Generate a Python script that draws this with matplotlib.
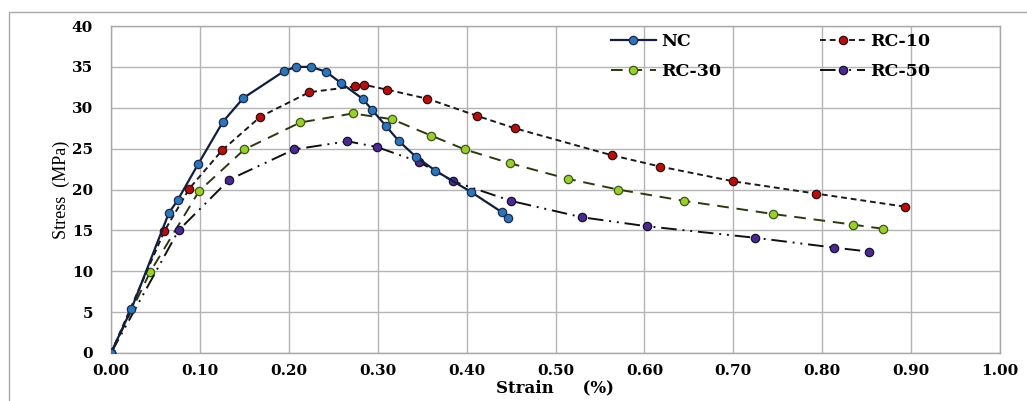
import matplotlib
matplotlib.use("Agg")
import matplotlib.pyplot as plt
from matplotlib.patches import Rectangle

nc_strain = [0.0, 0.023, 0.065, 0.075, 0.098, 0.126, 0.149, 0.195, 0.208, 0.225, 0.242, 0.259,
             0.283, 0.294, 0.309, 0.324, 0.343, 0.365, 0.405, 0.440, 0.447]
nc_stress = [0.0, 5.4, 17.1, 18.7, 23.1, 28.3, 31.2, 34.5, 35.0, 35.0, 34.4, 33.0,
             31.1, 29.7, 27.8, 25.9, 24.0, 22.3, 19.7, 17.2, 16.5]

rc10_strain = [0.0, 0.060, 0.088, 0.125, 0.168, 0.223, 0.274, 0.285, 0.311, 0.356, 0.412,
               0.454, 0.563, 0.618, 0.700, 0.793, 0.893]
rc10_stress = [0.0, 14.9, 20.1, 24.8, 28.9, 31.9, 32.6, 32.8, 32.2, 31.1, 29.0,
               27.5, 24.2, 22.8, 21.0, 19.5, 17.9]

rc30_strain = [0.0, 0.044, 0.099, 0.150, 0.213, 0.272, 0.316, 0.360, 0.398, 0.449, 0.514,
               0.570, 0.645, 0.745, 0.835, 0.868]
rc30_stress = [0.0, 9.9, 19.8, 24.9, 28.2, 29.3, 28.6, 26.6, 24.9, 23.2, 21.3,
               20.0, 18.6, 17.0, 15.7, 15.2]

rc50_strain = [0.0, 0.076, 0.133, 0.206, 0.266, 0.299, 0.346, 0.385, 0.450, 0.530,
               0.603, 0.724, 0.813, 0.853]
rc50_stress = [0.0, 15.0, 21.2, 24.9, 25.9, 25.2, 23.4, 21.0, 18.6, 16.6,
               15.5, 14.1, 12.9, 12.4]

labels = ["NC", "RC-10", "RC-30", "RC-50"]
x_ticks = [0.0, 0.1, 0.2, 0.3, 0.4, 0.5, 0.6, 0.7, 0.8, 0.9, 1.0]
y_ticks = [0, 5, 10, 15, 20, 25, 30, 35, 40]

serif = ["DejaVu Serif"]
lserif = ["Liberation Serif", "DejaVu Serif"]

fig = plt.figure(figsize=(10.27, 4.01), dpi=100)
ax = fig.add_axes([111/1027, 1-353/401, (1000-111)/1027, (353-26)/401])

# outer frame
fig.patches.append(Rectangle((9/1027, -0.05), 1.2, 1-12/401+0.05, transform=fig.transFigure,
                             fill=False, edgecolor="#A8A8A8", linewidth=1.0))

ms = 6
h_nc, = ax.plot(nc_strain, nc_stress, '-', color="#0F1F3D", lw=1.6, marker='o', ms=ms,
                mfc="#2E75B6", mec="#1A2A50", mew=0.9, label=labels[0], zorder=5)
h_10, = ax.plot(rc10_strain, rc10_stress, color="#1A1A1A", lw=1.4, ls=(0, (3, 2)), marker='o', ms=ms,
                mfc="#B01010", mec="#3A0A0A", mew=0.9, label=labels[1], zorder=4)
h_30, = ax.plot(rc30_strain, rc30_stress, color="#2A3A10", lw=1.4, ls=(0, (6, 4)), marker='o', ms=ms,
                mfc="#9ACD32", mec="#3E5A10", mew=0.9, label=labels[2], zorder=3)
h_50, = ax.plot(rc50_strain, rc50_stress, color="#101010", lw=1.4, ls=(0, (8, 3, 1, 3, 1, 3)), marker='o', ms=ms,
                mfc="#4B2A8C", mec="#15103A", mew=0.9, label=labels[3], zorder=4)

ax.set_xlim(0, 1.0)
ax.set_ylim(0, 40)
ax.set_xticks(x_ticks)
ax.set_yticks(y_ticks)
ax.set_xticklabels([f"{v:.2f}" for v in x_ticks])
ax.set_yticklabels([str(v) for v in y_ticks])
for lab in ax.get_xticklabels() + ax.get_yticklabels():
    lab.set_family(serif)
    lab.set_fontweight("bold")
    lab.set_fontsize(11)
ax.tick_params(axis="y", length=0, pad=13)
ax.tick_params(axis="x", length=0, pad=8)
ax.grid(True, color="#B4B4B4", lw=1.0)
ax.set_axisbelow(True)
for s in ax.spines.values():
    s.set_color("#A8A8A8")
    s.set_linewidth(1.0)

ax.set_xlabel("Strain     (%)", family=serif, fontweight="bold", fontsize=12, labelpad=1)
ax.set_ylabel("Stress  (MPa)", family=lserif, fontsize=13, labelpad=1)

leg = ax.legend([h_nc, h_30, h_10, h_50], [labels[0], labels[2], labels[1], labels[3]],
                ncol=2, loc="upper left", bbox_to_anchor=(595/1027, 1-17/401),
                bbox_transform=fig.transFigure, frameon=False,
                prop={"family": serif, "weight": "bold", "size": 12.5},
                handlelength=2.6, columnspacing=5.7, handletextpad=0.3, labelspacing=0.75)

fig.savefig("out.png", dpi=100)
